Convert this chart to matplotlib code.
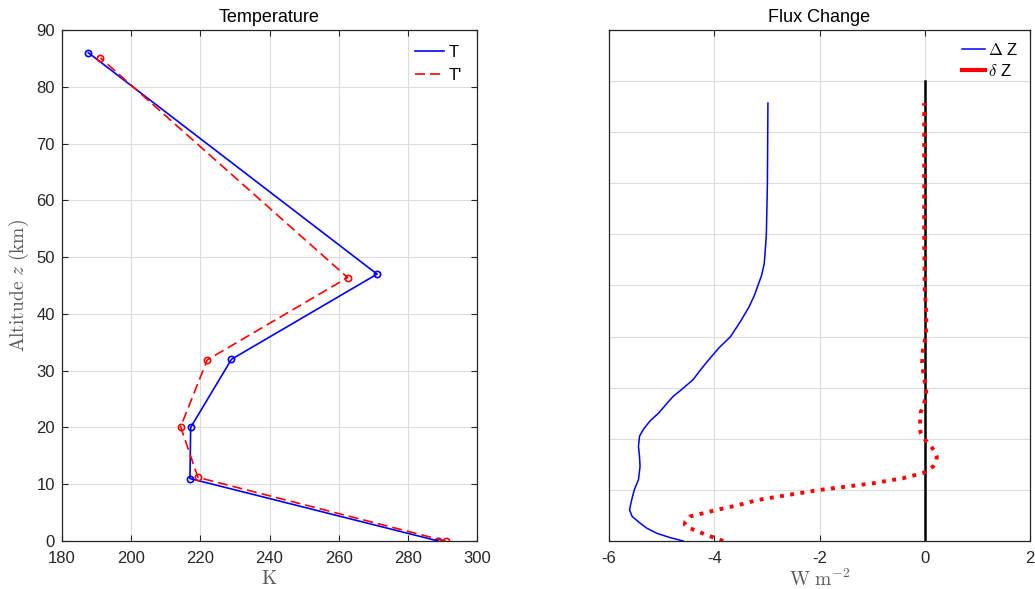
import matplotlib
matplotlib.use("Agg")
import matplotlib.pyplot as plt

# -------------------------------------------------------------------------
# Datos
# -------------------------------------------------------------------------
# Perfil de temperatura (K) vs altitud (km)
z_T = [0, 11, 20, 32, 47, 86]
T = [288.8, 217.0, 217.2, 229.0, 271.1, 187.6]
z_Tp = [0, 11.2, 20.1, 31.9, 46.4, 85.1]
Tp = [290.9, 219.3, 214.3, 222.0, 262.6, 191.1]

# Cambio de flujo (W m^-2) vs nivel
z_dZ = [0, 0.7, 1.5, 2.5, 3.5, 4.8, 6.1, 8, 10, 12, 14.6, 16.5, 18.5, 20.5,
        21.8, 23.5, 25, 26.8, 28.3, 29.9, 31.6, 33.5, 35.4, 37.8, 40, 43,
        45.8, 48, 50, 52, 54.3, 57, 60, 70, 85.7]
dZ = [-4.59, -4.85, -5.09, -5.28, -5.41, -5.56, -5.61, -5.57, -5.52, -5.44,
      -5.41, -5.42, -5.44, -5.42, -5.35, -5.22, -5.06, -4.91, -4.78, -4.59,
      -4.40, -4.26, -4.11, -3.91, -3.69, -3.50, -3.34, -3.24, -3.17, -3.10,
      -3.05, -3.03, -3.01, -2.99, -2.98]

z_sZ = [0, 1.2, 2.5, 3.2, 3.8, 4.8, 6.1, 7, 8.0, 9.0, 10.0, 10.7, 11.3, 12.3,
        13.3, 14.6, 15.5, 16.5, 17.5, 18.5, 19.9, 21.2, 23, 25.1, 28, 30, 32,
        35, 38, 40, 43, 46, 49, 60, 85.7]
sZ = [-3.83, -4.15, -4.46, -4.56, -4.55, -4.46, -3.95, -3.55, -3.19, -2.60,
      -1.99, -1.45, -0.98, -0.41, -0.03, 0.16, 0.21, 0.23, 0.19, 0.12, 0.0,
      -0.08, -0.09, -0.08, 0.02, 0.03, -0.02, -0.05, -0.03, 0.02, 0.03,
      0.02, 0.0, -0.01, -0.01]

# Linea de referencia en cero
z_cero = [0, 90]
x_cero = [0, 0]

# -------------------------------------------------------------------------
# Estilo
# -------------------------------------------------------------------------
plt.rcParams['font.family'] = ['Liberation Sans', 'DejaVu Sans']
plt.rcParams['mathtext.fontset'] = 'cm'
plt.rcParams['axes.unicode_minus'] = False

gris_txt = '#262626'
gris_lbl = '#5a5a5a'

fig = plt.figure(figsize=(10.35, 5.89), dpi=100)
ax1 = fig.add_axes([0.0599, 0.0815, 0.401, 0.8676])
ax2 = fig.add_axes([0.5884, 0.0815, 0.4068, 0.8676])

for ax in (ax1, ax2):
    ax.grid(True, color='#dcdcdc', linewidth=0.8)
    ax.set_axisbelow(True)
    ax.tick_params(direction='in', top=True, right=True, length=4,
                   labelsize=12, colors=gris_txt, labelcolor=gris_txt)
    ax.tick_params(axis='x', pad=7)
    ax.tick_params(axis='y', pad=5)
    for s in ax.spines.values():
        s.set_color('#262626')
        s.set_linewidth(0.9)

# ----- Panel izquierdo: temperatura
ax1.plot(T, z_T, '-', color='blue', lw=1.2, label='T')
ax1.plot(T, z_T, 'o', color='blue', ms=4.5, mfc='none', mew=1.2)
ax1.plot(Tp, z_Tp, '--', color='red', lw=1.2, dashes=(6, 3), label="T'")
ax1.plot(Tp, z_Tp, 'o', color='red', ms=4.5, mfc='none', mew=1.2)
ax1.set_xlim(180, 300)
ax1.set_ylim(0, 90)
ax1.set_xticks(range(180, 301, 20))
ax1.set_yticks(range(0, 91, 10))
ax1.set_title('Temperature', fontsize=13, pad=6)
ax1.set_xlabel(r'$\mathrm{K}$', fontsize=14, color=gris_lbl, labelpad=3)
ax1.set_ylabel(r'$\mathrm{Altitude}\ z\ \mathrm{(km)}$', fontsize=14,
               color=gris_lbl, labelpad=4)
ax1.legend(loc='upper right', frameon=False, fontsize=12, handlelength=1.7,
           handletextpad=0.3, borderaxespad=0.5, labelspacing=0.5)

# ----- Panel derecho: cambio de flujo
ax2.plot(x_cero, z_cero, color='black', lw=1.8)
ax2.plot(dZ, z_dZ, color='blue', lw=1.1, label=r'$\Delta$ Z')
ax2.plot(sZ, z_sZ, ':', color='red', lw=2.8, label=r'$\delta$ Z')
ax2.set_xlim(-6, 2)
ax2.set_ylim(0, 100)
ax2.set_xticks(range(-6, 3, 2))
ax2.set_yticks(range(0, 101, 10))
ax2.set_yticklabels([])
ax2.tick_params(axis='y', length=0)
ax2.set_title('Flux Change', fontsize=13, pad=6)
ax2.set_xlabel(r'$\mathrm{W\ m^{-2}}$', fontsize=14, color=gris_lbl, labelpad=2)

leg = ax2.legend(loc='upper right', frameon=False, fontsize=12, handlelength=1.4,
                 handletextpad=0.2, borderaxespad=0.3, labelspacing=0.3)
leg.get_lines()[1].set_linestyle('-')
leg.get_lines()[1].set_linewidth(3)

plt.savefig('out.png', dpi=100)
plt.close()
